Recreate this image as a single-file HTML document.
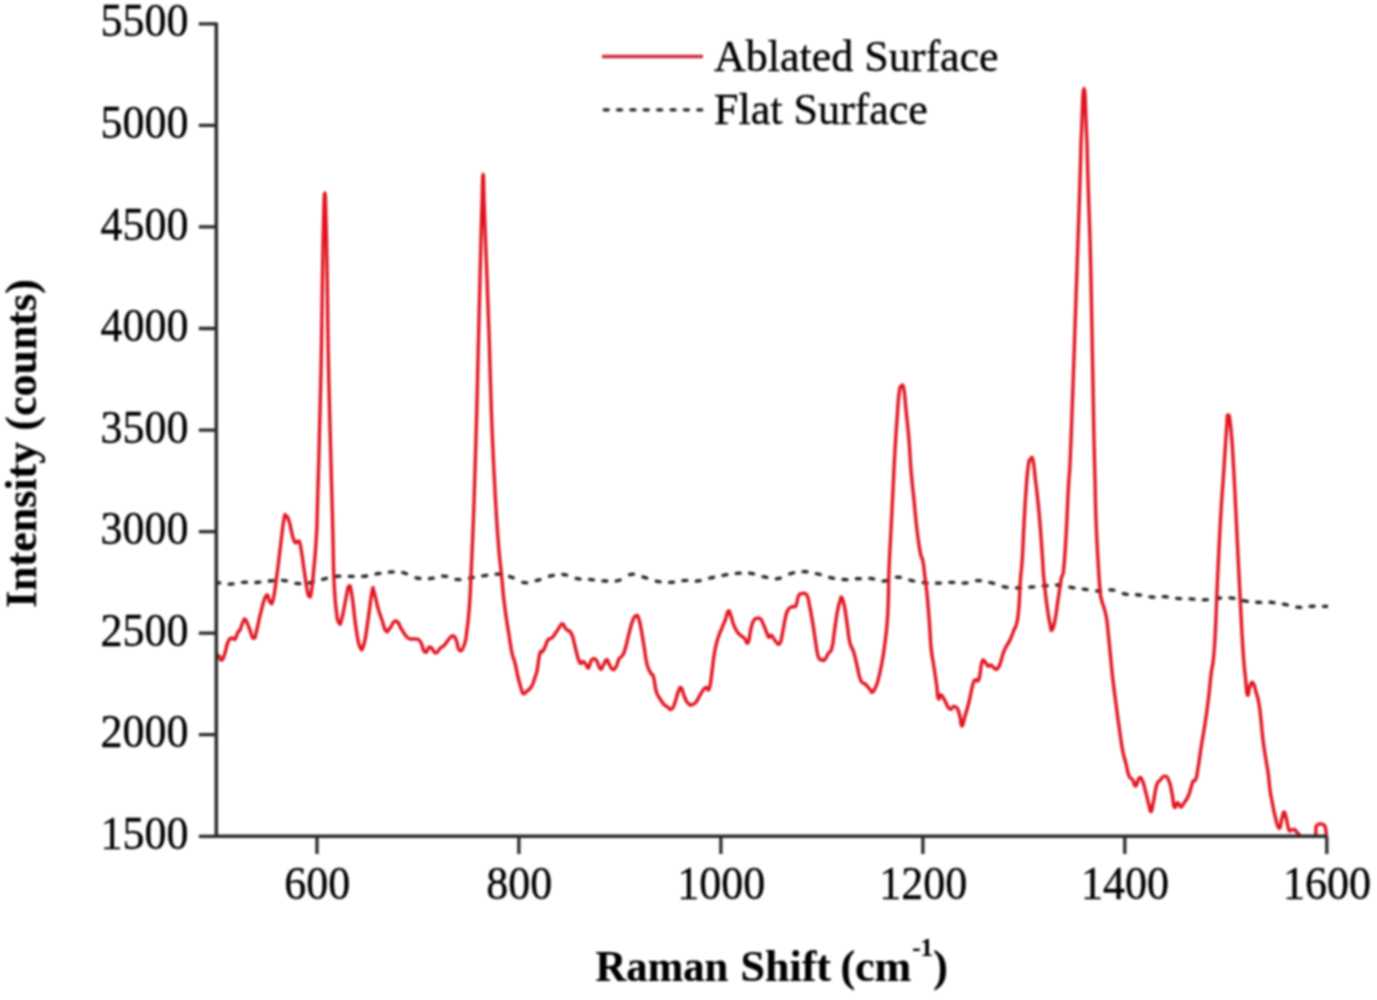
<!DOCTYPE html>
<html><head><meta charset="utf-8"><title>Raman spectrum</title>
<style>html,body{margin:0;padding:0;background:#fff;}body{width:1377px;height:1000px;overflow:hidden;font-family:"Liberation Serif",serif;}svg{display:block;filter:blur(0.8px);}</style>
</head><body>
<svg width="1377" height="1000" viewBox="0 0 1377 1000">
<rect width="1377" height="1000" fill="#fff"/>
<defs><clipPath id="c"><rect x="216" y="0" width="1112" height="836.3"/></clipPath></defs>
<path clip-path="url(#c)" d="M215.82,582.48L219.78,582.97M229.15,584.10L233.14,583.85M242.49,582.30L246.49,582.15M255.84,582.48L259.83,582.19M269.19,580.99L273.17,580.71M282.54,580.33L286.51,580.89M295.87,583.34L299.87,583.57M309.26,582.80L313.17,581.96M322.61,579.27L326.51,578.39M335.91,576.48L339.90,576.12M349.25,576.30L353.25,576.30M362.61,576.44L366.58,576.00M375.97,573.93L379.91,573.30M389.29,572.09L393.28,571.91M402.75,572.46L406.51,573.80M416.00,577.83L419.95,578.50M429.35,578.70L433.29,578.05M442.67,576.02L446.66,576.35M456.01,579.42L460.01,579.53M469.38,578.08L473.33,577.47M482.72,575.83L486.68,575.27M496.05,574.04L500.04,574.16M509.50,576.51L513.28,577.82M522.74,582.44L526.73,582.84M536.16,580.67L540.00,579.58M549.47,576.21L553.38,575.41M562.80,574.33L566.74,575.05M576.14,578.48L580.09,579.09M589.47,579.45L593.45,579.80M602.81,580.93L606.80,581.00M616.21,580.98L620.09,580.02M629.51,574.55L633.48,574.04M642.92,576.96L646.76,578.06M656.21,581.16L660.16,581.78M669.53,582.29L673.53,582.06M682.88,580.59L686.87,580.47M696.23,581.09L700.21,580.61M709.61,578.13L713.52,577.28M722.94,575.38L726.88,574.73M736.26,573.41L740.25,573.19M749.62,573.23L753.58,573.77M762.98,576.60L766.91,577.35M776.31,578.86L780.27,578.23M789.70,573.78L793.57,572.76M802.98,571.56L806.98,571.77M816.38,573.57L820.27,574.52M829.71,577.49L833.63,578.28M843.02,579.52L847.01,579.61M856.36,578.77L860.36,578.62M869.72,578.44L873.69,578.98M883.08,581.18L887.02,580.52M896.40,577.14L900.39,577.41M909.78,580.16L913.70,581.00M923.09,582.67L927.08,583.00M936.43,583.19L940.43,583.07M949.78,582.33L953.77,582.37M963.13,583.14L967.11,582.79M976.47,580.55L980.46,580.61M989.87,582.50L993.75,583.43M1003.19,586.65L1007.12,587.37M1016.50,587.95L1020.50,587.98M1029.85,587.19L1033.84,586.84M1043.20,585.83L1047.18,585.53M1056.54,584.99L1060.53,585.14M1069.92,587.17L1073.84,587.92M1083.24,589.04L1087.21,589.52M1096.57,590.88L1100.57,591.02M1109.93,589.79L1113.90,590.23M1123.29,593.66L1127.23,594.38M1136.62,594.76L1140.59,595.19M1149.95,596.85L1153.95,597.13M1163.30,596.69L1167.29,596.93M1176.65,598.35L1180.63,598.67M1189.99,598.90L1193.98,599.10M1203.33,599.85L1207.33,599.70M1216.68,598.24L1220.67,597.99M1230.03,597.90L1234.01,598.30M1243.39,600.72L1247.34,601.37M1256.71,602.24L1260.71,602.45M1270.06,602.25L1274.05,602.55M1283.43,604.13L1287.37,604.84M1296.75,607.04L1300.74,607.37M1310.09,606.40L1314.09,606.24M1323.43,606.30L1327.43,606.30" fill="none" stroke="#222" stroke-width="3.3" stroke-linecap="round"/>
<path clip-path="url(#c)" d="M216.0,655.0 C216.8,655.3 217.7,654.7 219.0,656.0 C220.3,657.3 219.7,660.0 221.0,660.0 C222.3,660.0 222.1,660.8 224.0,656.0 C225.9,651.2 225.9,646.8 228.0,642.0 C230.1,637.2 230.1,638.8 232.0,638.0 C233.9,637.2 233.4,640.6 235.0,639.0 C236.6,637.4 236.7,634.4 238.0,632.0 C239.3,629.6 238.7,632.7 240.0,630.0 C241.3,627.3 241.5,624.7 243.0,622.0 C244.5,619.3 243.8,617.8 245.5,619.7 C247.2,621.6 247.3,624.0 249.5,629.0 C251.7,634.0 251.6,638.3 253.6,638.3 C255.6,638.3 255.1,635.9 257.0,629.0 C258.9,622.1 258.3,621.4 260.8,612.5 C263.3,603.6 263.7,598.4 266.2,595.6 C268.7,592.8 268.2,600.8 270.0,602.0 C271.8,603.2 271.3,606.4 273.0,600.0 C274.7,593.6 274.5,592.4 276.5,578.0 C278.5,563.6 278.5,561.7 280.5,546.0 C282.5,530.3 282.5,526.9 284.0,519.0 C285.5,511.1 284.7,516.0 286.0,516.5 C287.3,517.0 286.9,514.6 289.0,521.0 C291.1,527.4 291.6,535.0 294.0,540.5 C296.4,546.0 296.3,540.0 298.0,541.5 C299.7,543.0 298.8,537.9 300.5,546.0 C302.2,554.1 302.6,560.0 304.4,572.0 C306.2,584.0 306.1,584.6 307.4,591.0 C308.7,597.4 308.3,595.7 309.3,596.0 C310.3,596.3 310.0,599.7 311.3,592.0 C312.6,584.3 312.6,581.9 314.0,567.0 C315.4,552.1 315.4,553.9 316.4,536.0 C317.4,518.1 316.4,541.6 317.6,500.0 C318.8,458.4 319.5,438.7 320.8,380.0 C322.1,321.3 321.7,322.7 322.4,280.0 C323.1,237.3 323.0,243.2 323.6,220.0 C324.2,196.8 324.2,193.0 324.8,193.0 C325.4,193.0 325.4,196.8 326.0,220.0 C326.6,243.2 326.5,237.3 327.2,280.0 C327.9,322.7 327.5,321.3 328.8,380.0 C330.1,438.7 330.9,457.3 332.0,500.0 C333.1,542.7 332.5,518.7 333.0,540.0 C333.5,561.3 333.2,561.9 334.0,580.0 C334.8,598.1 334.7,596.5 336.0,608.0 C337.3,619.5 337.4,620.3 339.0,623.0 C340.6,625.7 340.1,624.7 342.0,618.0 C343.9,611.3 344.1,606.5 346.0,598.0 C347.9,589.5 347.4,586.5 349.0,586.0 C350.6,585.5 350.1,584.8 352.0,596.0 C353.9,607.2 353.9,614.4 356.0,628.0 C358.1,641.6 357.9,642.7 360.0,647.0 C362.1,651.3 361.9,651.2 364.0,644.0 C366.1,636.8 365.9,633.9 368.0,620.0 C370.1,606.1 370.4,599.5 372.0,592.0 C373.6,584.5 372.4,587.7 374.0,592.0 C375.6,596.3 375.9,600.5 378.0,608.0 C380.1,615.5 379.9,613.9 382.0,620.0 C384.1,626.1 383.9,628.9 386.0,631.0 C388.1,633.1 387.3,630.7 390.0,628.0 C392.7,625.3 392.8,620.5 396.0,621.0 C399.2,621.5 398.8,625.5 402.0,630.0 C405.2,634.5 404.8,635.6 408.0,638.0 C411.2,640.4 410.8,638.2 414.0,639.0 C417.2,639.8 417.1,637.5 420.0,641.0 C422.9,644.5 422.3,650.4 425.0,652.0 C427.7,653.6 427.2,646.8 430.0,647.0 C432.8,647.2 432.8,652.5 435.6,652.8 C438.4,653.1 438.2,649.9 440.4,648.0 C442.6,646.1 442.1,647.5 444.0,645.6 C445.9,643.7 445.4,643.4 447.6,640.8 C449.8,638.2 450.2,636.3 452.4,636.0 C454.6,635.7 454.1,635.8 456.0,639.6 C457.9,643.4 457.4,649.1 459.6,650.4 C461.8,651.7 462.4,649.8 464.4,644.4 C466.4,639.0 465.6,640.5 467.0,630.0 C468.4,619.5 468.4,619.7 469.5,605.0 C470.6,590.3 470.1,595.0 471.0,575.0 C471.9,555.0 472.0,555.3 473.0,530.0 C474.0,504.7 473.8,509.3 474.7,480.0 C475.6,450.7 475.4,460.0 476.5,420.0 C477.6,380.0 477.5,378.0 478.7,330.0 C479.9,282.0 480.1,273.3 481.0,240.0 C481.9,206.7 481.4,222.5 482.0,205.0 C482.6,187.5 482.5,174.3 483.1,174.3 C483.7,174.3 483.6,187.5 484.2,205.0 C484.8,222.5 484.2,206.7 485.5,240.0 C486.8,273.3 487.6,292.7 488.9,330.0 C490.2,367.3 489.4,350.7 490.4,380.0 C491.4,409.3 491.1,408.0 492.5,440.0 C493.9,472.0 493.9,472.0 495.5,500.0 C497.1,528.0 496.9,525.0 498.5,545.0 C500.1,565.0 499.9,559.0 501.5,575.0 C503.1,591.0 502.5,589.0 504.5,605.0 C506.5,621.0 507.0,622.2 509.0,635.0 C511.0,647.8 510.4,645.5 512.0,653.0 C513.6,660.5 513.4,656.6 515.0,663.0 C516.6,669.4 516.4,670.3 518.0,677.0 C519.6,683.7 519.6,683.6 521.0,688.0 C522.4,692.4 521.7,692.7 523.2,693.6 C524.7,694.5 524.6,693.1 526.8,691.2 C529.0,689.3 529.4,690.2 531.6,686.4 C533.8,682.6 533.7,681.3 535.2,676.8 C536.7,672.3 535.9,675.8 537.2,669.6 C538.5,663.4 538.5,658.2 539.9,653.4 C541.3,648.6 541.2,653.5 542.6,651.6 C544.0,649.7 543.9,649.3 545.3,646.2 C546.7,643.1 546.3,642.1 548.0,639.9 C549.7,637.7 549.7,639.8 551.6,638.1 C553.5,636.4 553.3,636.2 555.2,633.6 C557.1,631.0 556.9,630.8 558.8,628.2 C560.7,625.6 560.5,623.5 562.4,623.7 C564.3,623.9 563.6,626.5 566.0,629.1 C568.4,631.7 569.0,629.0 571.4,633.6 C573.8,638.2 573.3,640.0 575.0,646.2 C576.7,652.4 576.3,652.4 577.7,657.0 C579.1,661.6 579.0,662.1 580.4,663.3 C581.8,664.5 581.7,661.3 583.1,661.5 C584.5,661.7 584.4,662.5 585.8,664.2 C587.2,665.9 587.1,668.8 588.5,667.8 C589.9,666.8 589.8,663.0 591.2,660.6 C592.6,658.2 592.5,658.8 593.9,658.8 C595.3,658.8 594.9,658.0 596.6,660.6 C598.3,663.2 598.5,667.3 600.2,668.7 C601.9,670.1 601.2,668.4 602.9,666.0 C604.6,663.6 604.8,660.2 606.5,659.7 C608.2,659.2 607.5,661.6 609.2,664.2 C610.9,666.8 610.9,669.1 612.8,669.6 C614.7,670.1 614.7,668.9 616.4,666.0 C618.1,663.1 617.4,661.7 619.1,658.8 C620.8,655.9 621.0,658.1 622.7,655.2 C624.4,652.3 623.7,653.8 625.4,648.0 C627.1,642.2 627.1,640.8 629.0,633.6 C630.9,626.4 630.7,625.8 632.6,621.0 C634.5,616.2 634.5,616.1 636.2,615.6 C637.9,615.1 637.5,614.9 638.9,619.2 C640.3,623.5 640.2,624.1 641.6,631.8 C643.0,639.5 642.9,639.4 644.3,648.0 C645.7,656.6 645.3,657.5 647.0,664.2 C648.7,670.9 649.1,669.8 650.8,673.2 C652.5,676.6 652.1,672.0 653.5,676.8 C654.9,681.6 654.5,685.4 656.2,691.2 C657.9,697.0 657.9,695.0 659.8,698.4 C661.7,701.8 661.5,701.6 663.4,703.8 C665.3,706.0 664.8,705.1 667.0,706.5 C669.2,707.9 669.3,710.4 671.5,709.2 C673.7,708.0 673.4,706.3 675.1,702.0 C676.8,697.7 676.2,696.8 677.8,693.0 C679.4,689.2 679.3,686.9 681.0,687.6 C682.7,688.3 682.3,691.6 684.1,695.7 C685.9,699.8 685.5,700.5 687.7,702.9 C689.9,705.3 689.8,705.2 692.2,704.7 C694.6,704.2 694.3,704.2 696.7,701.1 C699.1,698.0 698.8,696.6 701.2,693.0 C703.6,689.4 703.5,688.8 705.7,687.6 C707.9,686.4 707.6,692.8 709.3,688.5 C711.0,684.2 710.6,681.2 712.0,671.4 C713.4,661.6 713.0,660.7 714.7,651.6 C716.4,642.5 716.4,643.4 718.3,637.2 C720.2,631.0 720.0,633.0 721.9,628.2 C723.8,623.4 723.8,623.8 725.5,619.2 C727.2,614.6 726.8,612.1 728.2,611.1 C729.6,610.1 729.5,612.0 730.9,615.6 C732.3,619.2 731.9,620.3 733.6,624.6 C735.3,628.9 735.3,628.9 737.2,631.8 C739.1,634.7 738.9,633.7 740.8,635.4 C742.7,637.1 742.5,636.2 744.4,638.1 C746.3,640.0 746.3,644.8 748.0,642.6 C749.7,640.4 749.3,635.8 750.7,630.0 C752.1,624.2 751.7,624.1 753.4,621.0 C755.1,617.9 755.0,618.8 757.0,618.3 C759.0,617.8 759.1,617.5 760.8,619.2 C762.5,620.9 761.8,620.8 763.5,624.6 C765.2,628.4 765.7,630.2 767.1,633.6 C768.5,637.0 767.7,636.7 768.9,637.2 C770.1,637.7 769.9,634.4 771.6,635.4 C773.3,636.4 773.0,638.6 775.2,640.8 C777.4,643.0 777.8,645.4 779.7,643.5 C781.6,641.6 781.0,640.1 782.4,633.6 C783.8,627.1 783.7,625.4 785.1,619.2 C786.5,613.0 785.9,613.6 787.8,610.2 C789.7,606.8 790.1,607.8 792.3,606.6 C794.5,605.4 794.2,608.6 795.9,605.7 C797.6,602.8 796.9,599.0 798.6,595.8 C800.3,592.6 800.0,593.8 802.2,593.6 C804.4,593.4 804.8,591.9 806.7,594.9 C808.6,597.9 807.7,596.9 809.4,604.8 C811.1,612.7 811.3,614.5 813.0,624.6 C814.7,634.7 814.3,634.0 815.7,642.6 C817.1,651.2 816.7,652.4 818.4,657.0 C820.1,661.6 820.3,659.0 822.0,659.7 C823.7,660.4 823.0,661.4 824.7,659.7 C826.4,658.0 826.4,656.5 828.3,653.4 C830.2,650.3 830.2,654.2 831.9,648.0 C833.6,641.8 833.2,639.6 834.6,630.0 C836.0,620.4 835.9,619.7 837.3,612.0 C838.7,604.3 838.8,605.0 840.0,601.2 C841.2,597.4 840.6,596.2 841.8,597.6 C843.0,599.0 843.1,599.4 844.5,606.6 C845.9,613.8 845.8,615.0 847.2,624.6 C848.6,634.2 848.2,635.4 849.9,642.6 C851.6,649.8 851.6,645.4 853.5,651.6 C855.4,657.8 855.2,658.3 857.1,666.0 C859.0,673.7 858.5,675.6 860.7,680.4 C862.9,685.2 862.7,681.6 865.2,684.0 C867.7,686.4 867.9,687.2 869.9,689.4 C871.9,691.6 870.9,693.1 872.6,692.1 C874.3,691.1 874.5,689.9 876.2,685.8 C877.9,681.7 877.5,682.6 878.9,676.8 C880.3,671.0 880.2,671.9 881.6,664.2 C883.0,656.5 882.9,658.6 884.3,648.0 C885.7,637.4 885.9,637.4 887.0,624.6 C888.1,611.8 887.8,614.6 888.3,600.0 C888.8,585.4 888.3,588.7 889.0,570.0 C889.7,551.3 889.9,551.3 891.0,530.0 C892.1,508.7 891.9,511.3 893.0,490.0 C894.1,468.7 893.9,468.7 895.0,450.0 C896.1,431.3 895.9,434.9 897.0,420.0 C898.1,405.1 897.8,403.1 899.0,394.0 C900.2,384.9 900.1,387.1 901.4,386.0 C902.7,384.9 902.8,383.6 904.0,390.0 C905.2,396.4 904.7,396.7 906.0,410.0 C907.3,423.3 907.7,424.0 909.0,440.0 C910.3,456.0 909.7,454.0 911.0,470.0 C912.3,486.0 912.4,484.0 914.0,500.0 C915.6,516.0 915.3,516.0 917.0,530.0 C918.7,544.0 918.7,544.2 920.3,552.6 C921.9,561.0 921.8,555.4 923.0,561.6 C924.2,567.8 923.7,567.4 924.8,576.0 C925.9,584.6 925.8,582.0 927.0,594.0 C928.2,606.0 928.2,606.6 929.3,621.0 C930.4,635.4 929.9,636.0 931.1,648.0 C932.3,660.0 932.4,656.4 933.8,666.0 C935.2,675.6 935.3,675.4 936.5,684.0 C937.7,692.6 937.1,695.5 938.3,698.4 C939.5,701.3 939.3,694.3 941.0,694.8 C942.7,695.3 942.7,696.8 944.6,700.2 C946.5,703.6 946.5,705.0 948.2,707.4 C949.9,709.8 949.5,709.4 950.9,709.2 C952.3,709.0 951.9,706.7 953.6,706.5 C955.3,706.3 955.5,705.7 957.2,708.3 C958.9,710.9 958.6,711.7 959.9,716.4 C961.2,721.1 960.6,726.1 962.0,726.0 C963.4,725.9 963.1,722.4 965.0,716.0 C966.9,709.6 966.9,710.5 969.0,702.0 C971.1,693.5 971.1,689.9 973.0,684.0 C974.9,678.1 974.4,681.3 976.0,680.0 C977.6,678.7 977.4,683.8 979.0,679.0 C980.6,674.2 980.4,666.5 982.0,662.0 C983.6,657.5 983.4,660.9 985.0,662.0 C986.6,663.1 986.4,665.2 988.0,666.0 C989.6,666.8 989.4,664.5 991.0,665.0 C992.6,665.5 992.4,666.9 994.0,668.0 C995.6,669.1 995.4,670.1 997.0,669.0 C998.6,667.9 998.4,668.0 1000.0,664.0 C1001.6,660.0 1001.4,658.5 1003.0,654.0 C1004.6,649.5 1004.1,650.7 1006.0,647.0 C1007.9,643.3 1007.9,644.5 1010.0,640.0 C1012.1,635.5 1012.1,634.8 1014.0,630.0 C1015.9,625.2 1015.7,628.4 1017.0,622.0 C1018.3,615.6 1018.1,617.2 1019.0,606.0 C1019.9,594.8 1019.5,592.3 1020.4,580.0 C1021.3,567.7 1021.2,574.9 1022.2,560.0 C1023.2,545.1 1023.0,541.6 1024.0,524.0 C1025.0,506.4 1024.7,509.4 1025.8,494.0 C1026.9,478.6 1026.9,475.7 1028.2,466.4 C1029.5,457.1 1029.3,460.8 1030.6,459.2 C1031.9,457.6 1031.7,455.0 1033.0,460.4 C1034.3,465.8 1034.1,469.0 1035.4,479.6 C1036.7,490.2 1036.5,487.5 1037.8,500.0 C1039.1,512.5 1038.9,510.4 1040.2,526.4 C1041.5,542.4 1041.6,545.7 1042.6,560.0 C1043.6,574.3 1042.8,567.7 1044.0,580.0 C1045.2,592.3 1045.4,594.3 1047.0,606.0 C1048.6,617.7 1048.7,617.6 1050.0,624.0 C1051.3,630.4 1050.7,631.1 1052.0,630.0 C1053.3,628.9 1053.4,628.0 1055.0,620.0 C1056.6,612.0 1056.4,610.7 1058.0,600.0 C1059.6,589.3 1059.3,590.7 1061.0,580.0 C1062.7,569.3 1062.5,584.5 1064.5,560.0 C1066.5,535.5 1066.7,520.0 1068.4,488.0 C1070.1,456.0 1068.8,495.5 1071.0,440.0 C1073.2,384.5 1074.2,349.3 1076.6,280.0 C1079.0,210.7 1078.7,220.0 1080.0,180.0 C1081.3,140.0 1080.5,154.4 1081.6,130.0 C1082.7,105.6 1082.7,88.5 1084.0,88.5 C1085.3,88.5 1085.3,105.6 1086.4,130.0 C1087.5,154.4 1086.8,140.0 1088.0,180.0 C1089.2,220.0 1089.5,213.3 1091.0,280.0 C1092.5,346.7 1092.7,376.7 1093.8,430.0 C1094.9,483.3 1094.4,456.0 1095.0,480.0 C1095.6,504.0 1095.2,498.7 1096.0,520.0 C1096.8,541.3 1096.9,541.3 1098.0,560.0 C1099.1,578.7 1099.0,579.3 1100.0,590.0 C1101.0,600.7 1100.0,593.2 1101.6,600.0 C1103.2,606.8 1104.2,606.6 1106.0,615.4 C1107.8,624.2 1107.0,622.4 1108.2,633.0 C1109.4,643.6 1109.2,643.3 1110.4,655.0 C1111.6,666.7 1111.1,664.1 1112.6,677.0 C1114.1,689.9 1114.1,690.0 1115.9,703.5 C1117.7,717.0 1117.4,715.4 1119.2,727.7 C1121.0,740.0 1120.7,740.3 1122.5,749.7 C1124.3,759.1 1124.0,755.9 1125.8,762.9 C1127.6,769.9 1127.3,771.7 1129.1,776.1 C1130.9,780.5 1130.6,776.8 1132.4,779.4 C1134.2,782.0 1133.9,786.3 1135.7,786.0 C1137.5,785.7 1137.2,779.8 1139.0,778.3 C1140.8,776.8 1140.5,777.0 1142.3,780.5 C1144.1,784.0 1143.8,785.1 1145.6,791.6 C1147.4,798.1 1147.4,799.5 1148.9,804.8 C1150.4,810.1 1149.9,812.0 1151.1,811.4 C1152.3,810.8 1151.8,809.6 1153.3,802.6 C1154.8,795.6 1154.9,790.9 1156.7,785.0 C1158.5,779.1 1157.9,782.9 1160.0,780.5 C1162.1,778.1 1162.1,776.1 1164.4,776.1 C1166.7,776.1 1166.7,775.8 1168.8,780.5 C1170.9,785.2 1170.6,786.7 1172.1,793.8 C1173.6,800.9 1172.8,804.7 1174.3,807.0 C1175.8,809.3 1175.8,802.6 1177.6,802.6 C1179.4,802.6 1179.1,807.0 1180.9,807.0 C1182.7,807.0 1182.2,805.5 1184.2,802.6 C1186.2,799.7 1186.4,800.2 1188.3,796.0 C1190.2,791.8 1189.9,790.9 1191.2,787.0 C1192.5,783.1 1191.7,783.4 1193.0,781.3 C1194.3,779.2 1194.6,782.5 1195.9,779.0 C1197.2,775.5 1196.4,777.6 1198.0,768.0 C1199.6,758.4 1199.9,755.0 1201.8,743.1 C1203.7,731.2 1203.3,735.0 1205.1,723.3 C1206.9,711.6 1206.8,712.0 1208.4,699.1 C1210.0,686.2 1209.4,689.2 1211.0,675.0 C1212.6,660.8 1212.8,671.3 1214.5,646.0 C1216.2,620.7 1215.9,613.6 1217.5,580.0 C1219.1,546.4 1218.9,548.0 1220.5,520.0 C1222.1,492.0 1221.9,499.0 1223.5,475.0 C1225.1,451.0 1225.3,446.0 1226.5,430.0 C1227.7,414.0 1226.8,415.0 1228.0,415.0 C1229.2,415.0 1229.4,414.0 1231.0,430.0 C1232.6,446.0 1232.4,447.0 1234.0,475.0 C1235.6,503.0 1235.4,503.0 1237.0,535.0 C1238.6,567.0 1238.4,564.3 1240.0,595.0 C1241.6,625.7 1241.5,627.9 1243.0,650.0 C1244.5,672.1 1244.3,666.0 1245.5,678.0 C1246.7,690.0 1246.3,692.9 1247.5,695.0 C1248.7,697.1 1248.5,689.2 1250.0,686.0 C1251.5,682.8 1251.4,681.4 1253.0,683.0 C1254.6,684.6 1254.4,686.4 1256.0,692.0 C1257.6,697.6 1257.7,696.5 1259.0,704.0 C1260.3,711.5 1259.9,710.4 1261.0,720.0 C1262.1,729.6 1261.7,729.3 1263.0,740.0 C1264.3,750.7 1264.7,751.5 1266.0,760.0 C1267.3,768.5 1266.9,764.0 1268.0,772.0 C1269.1,780.0 1269.0,782.5 1270.0,790.0 C1271.0,797.5 1270.5,793.3 1271.8,800.0 C1273.1,806.7 1272.9,807.5 1274.8,815.0 C1276.7,822.5 1277.1,827.4 1279.0,828.2 C1280.9,829.0 1280.6,822.3 1282.0,818.0 C1283.4,813.7 1283.0,812.0 1284.1,812.0 C1285.2,812.0 1285.0,813.5 1286.2,818.0 C1287.4,822.5 1287.5,825.4 1288.6,828.8 C1289.7,832.2 1289.0,830.4 1290.4,830.6 C1291.8,830.8 1292.2,828.9 1294.0,829.4 C1295.8,829.9 1295.6,830.9 1297.0,832.4 C1298.4,833.9 1297.8,833.0 1299.4,835.0 C1301.0,837.0 1299.6,838.7 1303.0,840.0 C1306.4,841.3 1308.6,841.5 1312.0,840.0 C1315.4,838.5 1314.5,837.8 1315.6,834.2 C1316.7,830.6 1315.1,829.2 1316.2,826.5 C1317.3,823.8 1317.7,824.4 1319.8,824.0 C1321.9,823.6 1322.4,823.4 1324.0,825.0 C1325.6,826.6 1325.2,827.1 1325.8,830.0 C1326.4,832.9 1326.2,834.4 1326.4,836.0" fill="none" stroke="#e01420" stroke-width="3.4" stroke-linejoin="round" stroke-linecap="round"/>
<path d="M216.3,22.5 V836.3 H1326.7" fill="none" stroke="#2a2a2a" stroke-width="3.5" stroke-linejoin="miter"/>
<path d="M198.8,836.3H216.3 M198.8,734.7H216.3 M198.8,633.2H216.3 M198.8,531.6H216.3 M198.8,430.1H216.3 M198.8,328.5H216.3 M198.8,226.9H216.3 M198.8,125.4H216.3 M198.8,23.8H216.3 M317.0,836.3V854 M518.9,836.3V854 M720.9,836.3V854 M922.9,836.3V854 M1124.8,836.3V854 M1326.8,836.3V854" stroke="#2a2a2a" stroke-width="3.3" fill="none"/>
<g font-family="Liberation Serif" font-size="44" fill="#000" stroke="#000" stroke-width="0.35">
<text transform="translate(188.6,848.9) scale(1,1.05)" text-anchor="end">1500</text>
<text transform="translate(188.6,747.3) scale(1,1.05)" text-anchor="end">2000</text>
<text transform="translate(188.6,645.8) scale(1,1.05)" text-anchor="end">2500</text>
<text transform="translate(188.6,544.2) scale(1,1.05)" text-anchor="end">3000</text>
<text transform="translate(188.6,442.7) scale(1,1.05)" text-anchor="end">3500</text>
<text transform="translate(188.6,341.1) scale(1,1.05)" text-anchor="end">4000</text>
<text transform="translate(188.6,239.5) scale(1,1.05)" text-anchor="end">4500</text>
<text transform="translate(188.6,138.0) scale(1,1.05)" text-anchor="end">5000</text>
<text transform="translate(188.6,36.4) scale(1,1.05)" text-anchor="end">5500</text>
<text transform="translate(317.3,899.4) scale(1,1.05)" text-anchor="middle">600</text>
<text transform="translate(519.2,899.4) scale(1,1.05)" text-anchor="middle">800</text>
<text transform="translate(721.2,899.4) scale(1,1.05)" text-anchor="middle">1000</text>
<text transform="translate(923.2,899.4) scale(1,1.05)" text-anchor="middle">1200</text>
<text transform="translate(1125.1,899.4) scale(1,1.05)" text-anchor="middle">1400</text>
<text transform="translate(1327.1,899.4) scale(1,1.05)" text-anchor="middle">1600</text>
</g>
<line x1="602" y1="56.5" x2="703" y2="56.5" stroke="#cf2a3e" stroke-width="3.3"/>
<path d="M604.20,109.8h4.0M617.57,109.8h4.0M630.94,109.8h4.0M644.31,109.8h4.0M657.68,109.8h4.0M671.05,109.8h4.0M684.42,109.8h4.0M697.79,109.8h4.0" stroke="#222" stroke-width="3.3" stroke-linecap="round" fill="none"/>
<g font-family="Liberation Serif" font-size="44" fill="#000" stroke="#000" stroke-width="0.35">
<text x="714" y="70.6">Ablated Surface</text>
<text x="714" y="124.2">Flat Surface</text>
</g>
<g font-family="Liberation Serif" font-weight="bold" font-size="44" fill="#000" stroke="#000" stroke-width="0.2">
<text transform="translate(595.5,980.6) scale(0.97,1.01)">Raman</text>
<text x="740.5" y="980.6">Shift</text>
<text x="840.4" y="980.6">(cm</text>
<text x="912.2" y="956.4" font-size="25">-1</text>
<text x="933.2" y="980.6">)</text>
<text transform="translate(36,608) rotate(-90)" x="0" y="0">Intensity (counts)</text>
</g>
</svg>
</body></html>
